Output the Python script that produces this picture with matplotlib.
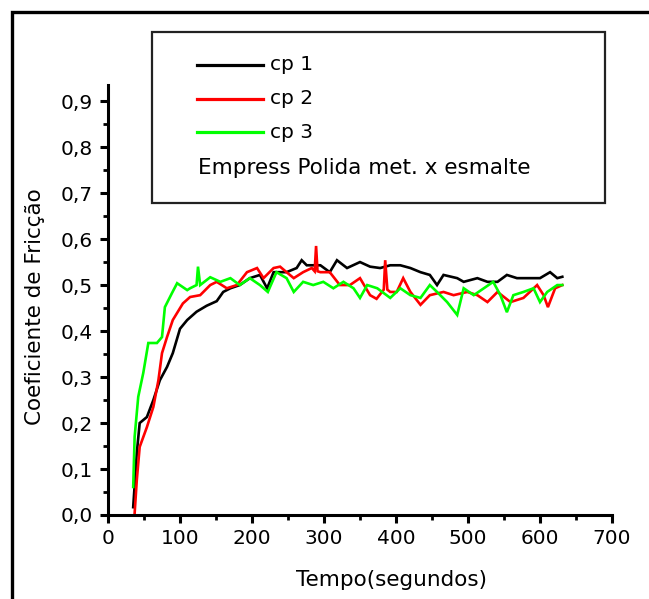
import matplotlib
matplotlib.use("Agg")
import matplotlib.pyplot as plt
from matplotlib.patches import Rectangle
from matplotlib.lines import Line2D
from matplotlib.ticker import MultipleLocator, FuncFormatter

plt.rcParams['font.family'] = ['DejaVu Sans']

# ---- data ----
cp1_x = [35, 40, 44, 54, 63, 72, 82, 90, 100, 110, 123, 137, 151, 160, 170, 183, 197, 211, 221, 230,
         248, 262, 269, 276, 295, 308, 318, 332, 350, 364, 378, 392, 406, 420, 434, 447, 457, 466, 485,
         494, 513, 527, 541, 554, 568, 586, 600, 614, 624, 631]
cp1_y = [0.017, 0.135, 0.200, 0.213, 0.250, 0.293, 0.322, 0.352, 0.405, 0.424, 0.442, 0.455, 0.465, 0.485,
         0.493, 0.500, 0.515, 0.522, 0.493, 0.528, 0.528, 0.537, 0.554, 0.543, 0.543, 0.528, 0.554, 0.537,
         0.550, 0.540, 0.537, 0.543, 0.543, 0.537, 0.528, 0.522, 0.500, 0.522, 0.515, 0.507, 0.515, 0.507,
         0.507, 0.522, 0.515, 0.515, 0.515, 0.528, 0.515, 0.518]

cp2_x = [37, 40, 44, 54, 63, 70, 75, 82, 90, 104, 114, 128, 142, 151, 165, 179, 193, 207, 216, 230,
         239, 248, 258, 271, 283, 287, 289, 291, 295, 308, 322, 336, 350, 364, 373, 383, 385, 388, 392,
         401, 410, 420, 434, 447, 466, 480, 499, 513, 527, 541, 559, 577, 596, 605, 611, 621, 631]
cp2_y = [0.004, 0.076, 0.148, 0.191, 0.235, 0.293, 0.352, 0.387, 0.424, 0.460, 0.474, 0.478, 0.500, 0.507,
         0.493, 0.500, 0.528, 0.537, 0.515, 0.537, 0.540, 0.528, 0.515, 0.528, 0.537, 0.530, 0.585, 0.530,
         0.528, 0.528, 0.500, 0.500, 0.515, 0.478, 0.470, 0.490, 0.554, 0.490, 0.485, 0.485, 0.515, 0.485,
         0.457, 0.478, 0.485, 0.478, 0.485, 0.478, 0.463, 0.485, 0.463, 0.472, 0.500, 0.478, 0.452, 0.493,
         0.500]

cp3_x = [35, 37, 42, 49, 56, 68, 75, 79, 89, 96, 110, 114, 123, 125, 128, 142, 156, 170, 183, 197,
         211, 222, 234, 248, 258, 271, 285, 299, 313, 327, 341, 350, 360, 374, 392, 406, 420, 434, 447,
         457, 471, 485, 494, 508, 522, 535, 545, 554, 563, 577, 591, 600, 610, 624, 631]
cp3_y = [0.061, 0.170, 0.257, 0.309, 0.374, 0.374, 0.387, 0.452, 0.483, 0.504, 0.489, 0.493, 0.500, 0.540,
         0.500, 0.517, 0.507, 0.515, 0.500, 0.515, 0.500, 0.485, 0.528, 0.515, 0.485, 0.507, 0.500, 0.507,
         0.493, 0.507, 0.493, 0.472, 0.500, 0.493, 0.472, 0.493, 0.478, 0.472, 0.500, 0.485, 0.463, 0.435,
         0.493, 0.478, 0.493, 0.507, 0.478, 0.441, 0.478, 0.485, 0.493, 0.463, 0.485, 0.500, 0.500]

series_labels = ["cp 1", "cp 2", "cp 3"]
series_colors = ["#000000", "#ff0000", "#00ff00"]
legend_note = "Empress Polida met. x esmalte"
x_label = "Tempo(segundos)"
y_label = "Coeficiente de Fricção"

W, H = 649, 599
fig = plt.figure(figsize=(W / 100, H / 100), dpi=100)

def fx(px):
    return px / W

def fy(py):
    return 1 - py / H

ax = fig.add_axes([fx(108), fy(515), fx(612) - fx(108), fy(85) - fy(515)])

for xs, ys, c in zip([cp1_x, cp2_x, cp3_x], [cp1_y, cp2_y, cp3_y], series_colors):
    ax.plot(xs, ys, color=c, lw=1.9, solid_joinstyle='miter')

ax.set_xlim(0, 700)
ax.set_ylim(0, 0.935)
ax.spines['top'].set_visible(False)
ax.spines['right'].set_visible(False)
for s in ['left', 'bottom']:
    ax.spines[s].set_linewidth(2.2)
ax.xaxis.set_major_locator(MultipleLocator(100))
ax.xaxis.set_minor_locator(MultipleLocator(50))
ax.yaxis.set_major_locator(MultipleLocator(0.1))
ax.yaxis.set_minor_locator(MultipleLocator(0.05))
ax.yaxis.set_major_formatter(FuncFormatter(lambda v, p: f"{v:.1f}".replace('.', ',')))
ax.tick_params(which='major', direction='out', length=6, width=2.2, labelsize=14.5, pad=4)
ax.tick_params(which='minor', direction='out', length=3.5, width=2.0)
ax.tick_params(axis='y', which='major', pad=5)

ax.set_xlabel(x_label, fontsize=15.5)
ax.xaxis.set_label_coords((392 - 108) / 504, (515 - 580) / 430)
ax.xaxis.label.set_va('center')
ax.set_ylabel(y_label, fontsize=15.5)
ax.yaxis.set_label_coords((35 - 108) / 504, (515 - 307) / 430)
ax.yaxis.label.set_va('center')

# legend box
fig.add_artist(Rectangle((fx(152), fy(203)), fx(605) - fx(152), fy(32) - fy(203),
                         transform=fig.transFigure, fill=False, lw=1.6, ec='#222222'))
for i, (lab, c) in enumerate(zip(series_labels, series_colors)):
    yy = [65, 99, 132][i]
    fig.add_artist(Line2D([fx(197), fx(263)], [fy(yy), fy(yy)], transform=fig.transFigure,
                          color=c, lw=2.3))
    fig.text(fx(270), fy(yy), lab, fontsize=14.5, va='center', ha='left')
fig.text(fx(198), fy(168), legend_note, fontsize=15.5, va='center', ha='left')

# outer frame
fig.add_artist(Rectangle((fx(12), fy(700)), 2, fy(12) - fy(700), transform=fig.transFigure,
                         fill=False, lw=2.4, ec='black'))

fig.savefig("out.png", dpi=100)
